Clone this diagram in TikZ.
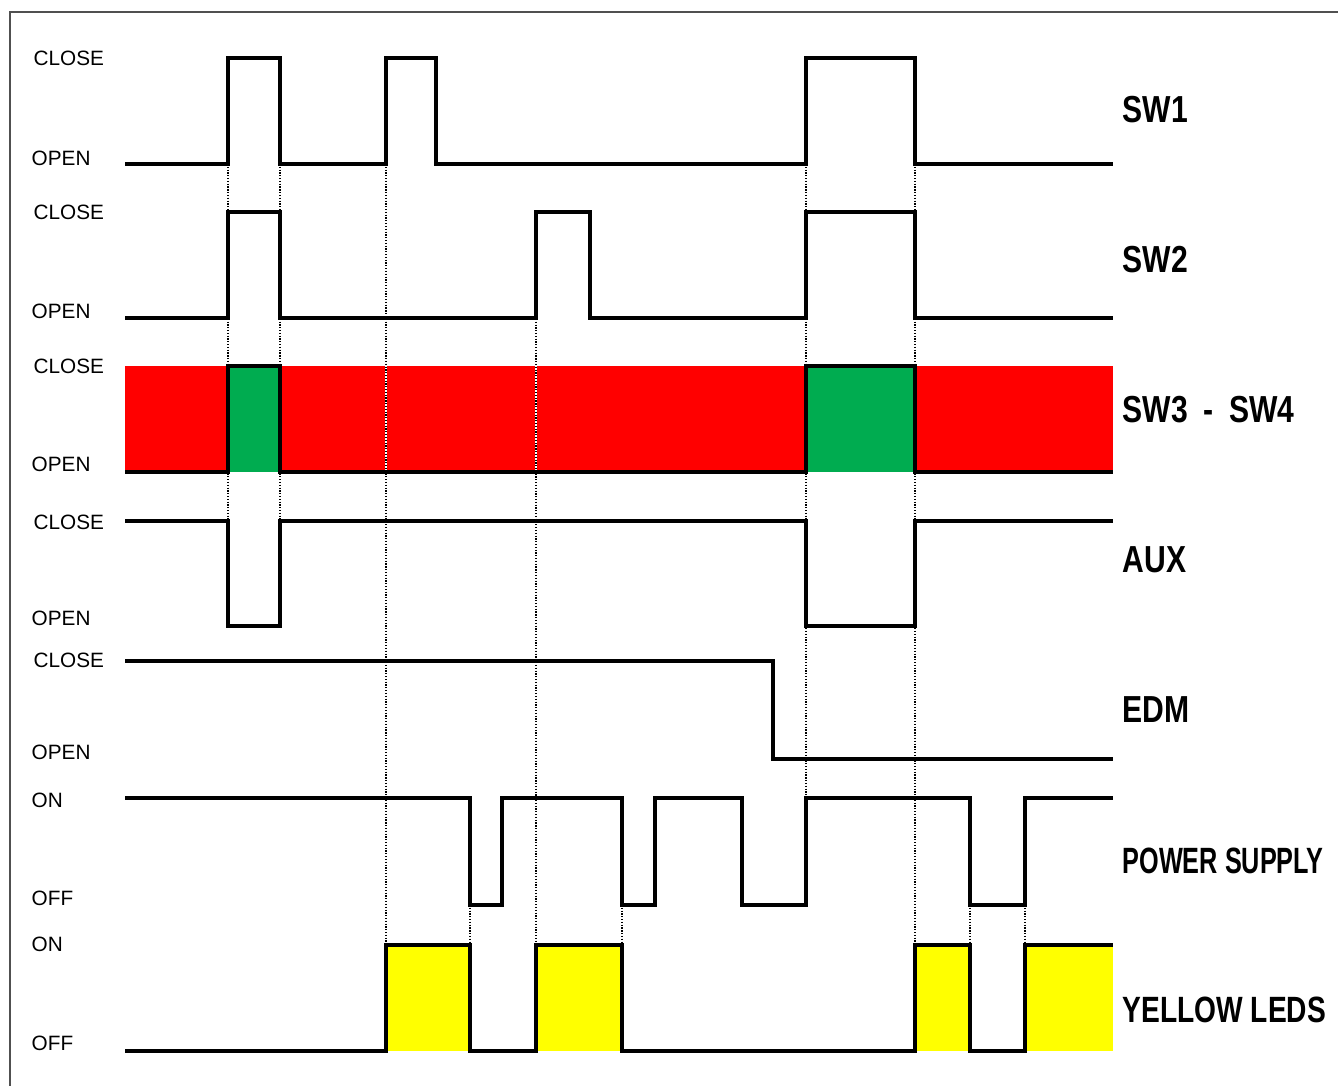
\documentclass[tikz,border=0pt]{standalone}
\usepackage{fontspec}
\setmainfont{Liberation Sans}
\newfontfamily\condfont[FakeStretch=0.8]{Liberation Sans Bold}
\newfontfamily\narrowfont[FakeStretch=0.69]{Liberation Sans Bold}
\newfontfamily\ledfont[FakeStretch=0.77]{Liberation Sans Bold}
\definecolor{bandred}{RGB}{255,0,0}
\definecolor{contactgreen}{RGB}{0,172,80}
\definecolor{ledyellow}{RGB}{255,255,0}
\definecolor{framegray}{RGB}{80,80,80}
\tikzset{
  signal/.style={line width=1.2pt, line cap=butt, line join=miter},
  guide/.style={line width=0.45pt, dash pattern=on 0.35pt off 0.45pt},
  levellabel/.style={anchor=west, inner sep=0pt, font=\fontsize{5.9}{6}\selectfont},
  namelabel/.style={anchor=west, inner sep=0pt, font=\condfont\fontsize{10.7}{11}\selectfont},
  longlabel/.style={anchor=west, inner sep=0pt, font=\narrowfont\fontsize{10.4}{11}\selectfont},
  ledlabel/.style={anchor=west, inner sep=0pt, font=\ledfont\fontsize{10.4}{11}\selectfont}
}
\begin{document}
\begin{tikzpicture}[x=0.01cm,y=-0.01cm]
  \useasboundingbox (0,0) rectangle (1338,1086);
  \draw[framegray, line width=0.7pt] (10,1100) -- (10,12) -- (1360,12);

  \fill[bandred] (125,366) rectangle (1113,472);
  \begin{scope}[white, line width=0.45pt]
    \draw (386,366) -- (386,472);
    \draw (536,366) -- (536,472);
  \end{scope}

  \foreach \x in {228,280} \draw[guide] (\x,164) -- (\x,626);
  \foreach \x in {386,915} \draw[guide] (\x,164) -- (\x,945);
  \draw[guide] (536,212) -- (536,945);
  \draw[guide] (806,164) -- (806,798);
  \foreach \x in {470,622,970,1025} \draw[guide] (\x,905) -- (\x,945);

  \fill[contactgreen] (228,366) rectangle (280,472);
  \fill[contactgreen] (806,366) rectangle (915,472);
  \fill[ledyellow] (386,945) rectangle (470,1051);
  \fill[ledyellow] (536,945) rectangle (622,1051);
  \fill[ledyellow] (915,945) rectangle (970,1051);
  \fill[ledyellow] (1025,945) rectangle (1113,1051);

  \draw[signal] (125,164) -- (228,164) -- (228,58) -- (280,58) -- (280,164)
    -- (386,164) -- (386,58) -- (436,58) -- (436,164) -- (806,164)
    -- (806,58) -- (915,58) -- (915,164) -- (1113,164);
  \draw[signal] (125,318) -- (228,318) -- (228,212) -- (280,212) -- (280,318)
    -- (536,318) -- (536,212) -- (590,212) -- (590,318) -- (806,318)
    -- (806,212) -- (915,212) -- (915,318) -- (1113,318);
  \draw[signal] (125,472) -- (228,472) -- (228,366) -- (280,366) -- (280,472)
    -- (806,472) -- (806,366) -- (915,366) -- (915,472) -- (1113,472);
  \draw[signal] (125,521) -- (228,521) -- (228,626) -- (280,626) -- (280,521)
    -- (806,521) -- (806,626) -- (915,626) -- (915,521) -- (1113,521);
  \draw[signal] (125,661) -- (773,661) -- (773,759) -- (1113,759);
  \draw[signal] (125,798) -- (470,798) -- (470,905) -- (502,905) -- (502,798)
    -- (622,798) -- (622,905) -- (655,905) -- (655,798) -- (742,798)
    -- (742,905) -- (806,905) -- (806,798) -- (970,798) -- (970,905)
    -- (1025,905) -- (1025,798) -- (1113,798);
  \draw[signal] (125,1051) -- (386,1051) -- (386,945) -- (470,945) -- (470,1051)
    -- (536,1051) -- (536,945) -- (622,945) -- (622,1051) -- (915,1051)
    -- (915,945) -- (970,945) -- (970,1051) -- (1025,1051) -- (1025,945)
    -- (1113,945);

  \node[levellabel] (sw1close) at (33,58) {CLOSE};
  \node[levellabel] (sw1open) at (31,158) {OPEN};
  \node[levellabel] (sw2close) at (33,212) {CLOSE};
  \node[levellabel] (sw2open) at (31,311) {OPEN};
  \node[levellabel] (sw3close) at (33,366) {CLOSE};
  \node[levellabel] (sw3open) at (31,464) {OPEN};
  \node[levellabel] (auxclose) at (33,522) {CLOSE};
  \node[levellabel] (auxopen) at (31,618) {OPEN};
  \node[levellabel] (edmclose) at (33,660) {CLOSE};
  \node[levellabel] (edmopen) at (31,752) {OPEN};
  \node[levellabel] (pson) at (31,800) {ON};
  \node[levellabel] (psoff) at (31,898) {OFF};
  \node[levellabel] (ledon) at (31,944) {ON};
  \node[levellabel] (ledoff) at (31,1043) {OFF};

  \node[namelabel] (sw1) at (1122,110) {SW1};
  \node[namelabel] (sw2) at (1122,260) {SW2};
  \node[namelabel] (sw34) at (1122,410) {SW3\hspace{2.1pt} - \hspace{2.1pt}SW4};
  \node[namelabel] (aux) at (1122,560) {AUX};
  \node[namelabel] (edm) at (1122,710) {EDM};
  \node[longlabel] (power) at (1122,861) {POWER SUPPLY};
  \node[ledlabel] (leds) at (1122,1010) {YELLOW LEDS};
\end{tikzpicture}
\end{document}
